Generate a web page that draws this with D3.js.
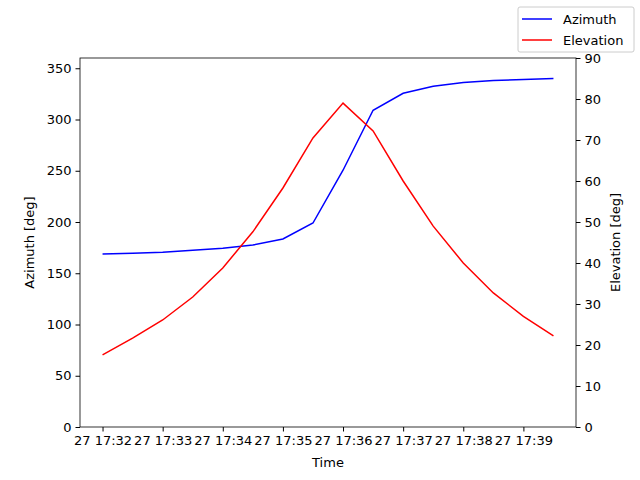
<!DOCTYPE html>
<html><head><meta charset="utf-8">
<script src="https://cdn.jsdelivr.net/npm/d3@7"></script>
<style>body{margin:0;background:#fff}text{font-family:"DejaVu Sans",sans-serif}</style>
</head><body><svg id="c" width="640" height="480"></svg>
<script>
// samples every 30 s starting 17:32:00
const times = d3.range(16).map(i => new Date(2024, 0, 27, 17, 32, i * 30));
const azimuth = [168.7, 169.5, 170.5, 172.5, 174.5, 177.5, 183.5, 199, 250.5, 309, 325.6, 332.5, 336, 338, 339, 340];
const elevation = [17.6, 21.7, 26.1, 31.7, 38.8, 47.6, 58.3, 70.5, 79, 72.2, 60, 49, 40, 32.7, 27, 22.2];
const xTicks = d3.range(8).map(i => new Date(2024, 0, 27, 17, 32 + i, 0));

const L = 80, R = 576, T = 58, B = 427;
const FS = 13;
const svg = d3.select("#c");
const t0 = times[0], t1 = times[times.length - 1];
const pad = (t1 - t0) * 0.05;
const x = d3.scaleTime().domain([new Date(+t0 - pad), new Date(+t1 + pad)]).range([L, R]);
const yL = d3.scaleLinear().domain([0, 360]).range([B, T]);
const yR = d3.scaleLinear().domain([0, 90]).range([B, T]);
const fmt = d3.timeFormat("%d %H:%M");

const style = g => g.call(s => s.selectAll("text").attr("font-size", FS).attr("fill", "#000"))
  .call(s => s.select(".domain").remove());
svg.append("g").attr("transform", `translate(0,${B})`)
  .call(d3.axisBottom(x).tickValues(xTicks).tickFormat(fmt).tickSize(4.5).tickPadding(4)).call(style);
svg.append("g").attr("transform", `translate(${L},0)`)
  .call(d3.axisLeft(yL).tickValues(d3.range(0, 351, 50)).tickSize(4.5).tickPadding(4)).call(style);
svg.append("g").attr("transform", `translate(${R},0)`)
  .call(d3.axisRight(yR).tickValues(d3.range(0, 91, 10)).tickSize(4.5).tickPadding(4)).call(style);
svg.append("rect").attr("x", L).attr("y", T).attr("width", R - L).attr("height", B - T)
  .attr("fill", "none").attr("stroke", "#000").attr("stroke-width", 0.8);

const line = (ys, vals) => d3.line().x((d, i) => x(times[i])).y(d => ys(d))(vals);
svg.append("path").attr("d", line(yL, azimuth)).attr("fill", "none").attr("stroke", "blue").attr("stroke-width", 1.5);
svg.append("path").attr("d", line(yR, elevation)).attr("fill", "none").attr("stroke", "red").attr("stroke-width", 1.5);

svg.append("text").attr("x", (L + R) / 2).attr("y", 467).attr("text-anchor", "middle").attr("font-size", FS).text("Time");
svg.append("text").attr("transform", `translate(34,${(T + B) / 2}) rotate(-90)`).attr("text-anchor", "middle").attr("font-size", FS).text("Azimuth [deg]");
svg.append("text").attr("transform", `translate(620,${(T + B) / 2}) rotate(-90)`).attr("text-anchor", "middle").attr("font-size", FS).text("Elevation [deg]");

const lg = svg.append("g");
lg.append("rect").attr("x", 518).attr("y", 7).attr("width", 116).attr("height", 45).attr("rx", 2)
  .attr("fill", "#fff").attr("stroke", "#ccc");
[["Azimuth", "blue"], ["Elevation", "red"]].forEach(([n, c], i) => {
  const yy = 19 + i * 21;
  lg.append("line").attr("x1", 522).attr("x2", 552).attr("y1", yy).attr("y2", yy).attr("stroke", c).attr("stroke-width", 1.5);
  lg.append("text").attr("x", 563).attr("y", yy + 4.5).attr("font-size", FS).text(n);
});
</script></body></html>
